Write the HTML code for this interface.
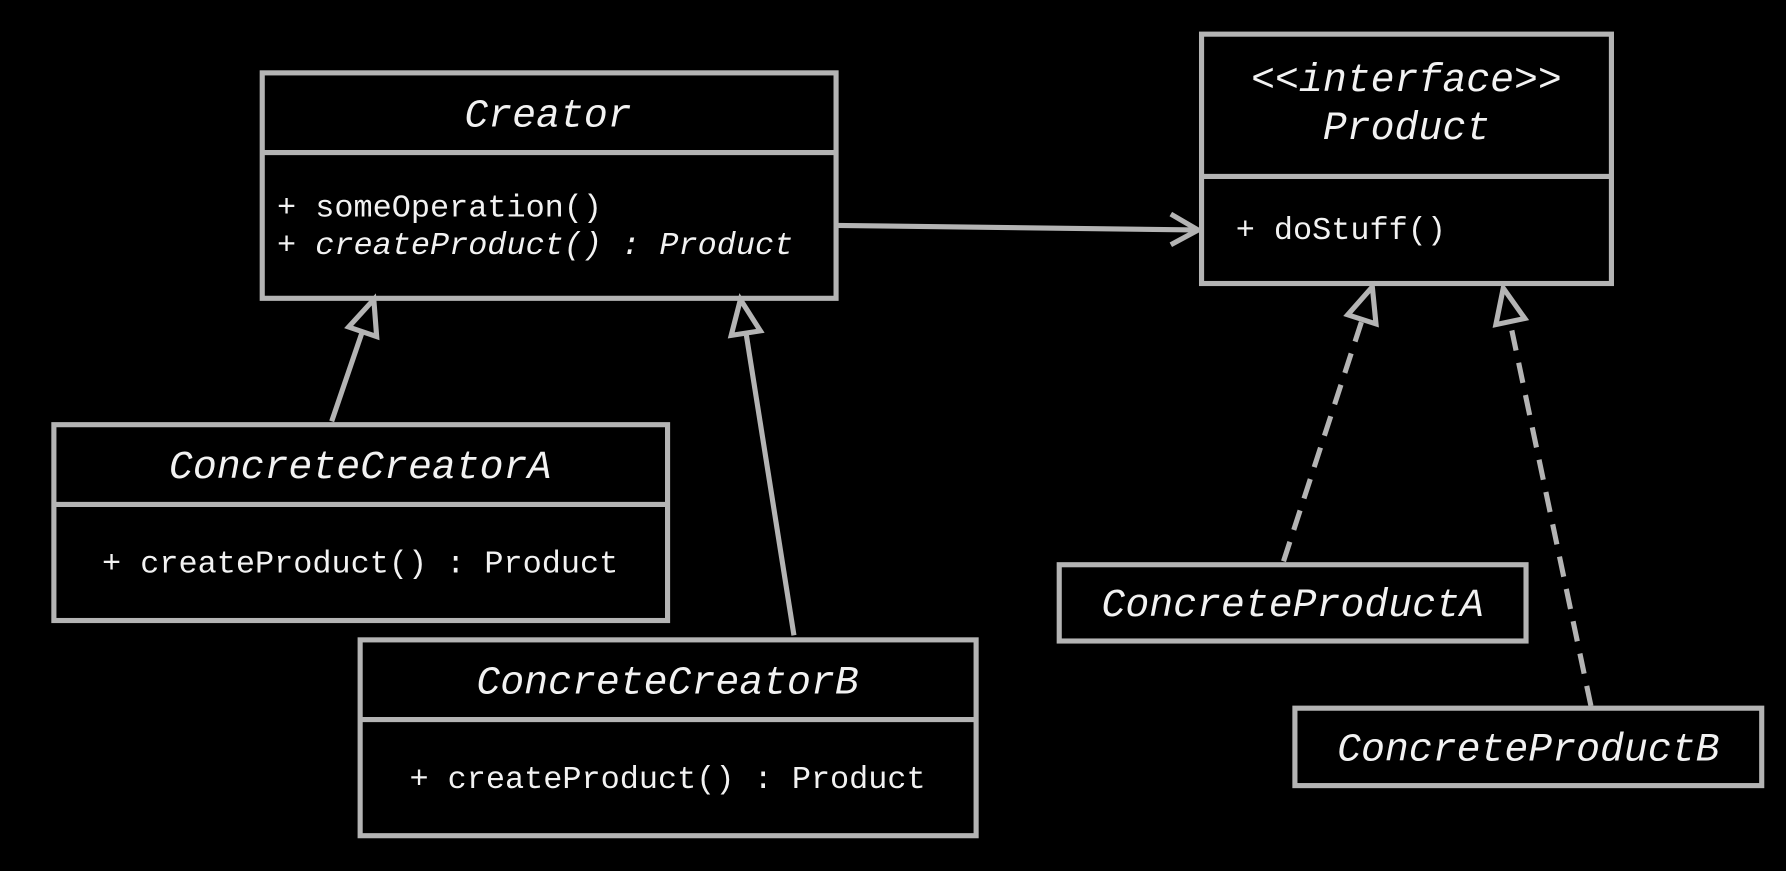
<!DOCTYPE html>
<html><head><meta charset="utf-8"><style>
html,body{margin:0;padding:0;background:#000;width:1786px;height:871px;overflow:hidden}
svg{display:block}
text{font-family:"Liberation Mono","DejaVu Sans Mono",monospace;fill:#f2f2f2}
.t{font-style:italic;font-size:35px}
.m{font-size:28px}
</style></head><body>
<svg width="1786" height="871" viewBox="0 0 1568 765" xmlns="http://www.w3.org/2000/svg">
<rect width="1568" height="765" fill="#000"/>
<g fill="none" stroke="#b4b4b4" stroke-width="4.5">
<rect x="230" y="64" width="504" height="198"/><line x1="230" y1="134" x2="734" y2="134"/>
<rect x="1055" y="30" width="360" height="219"/><line x1="1055" y1="155" x2="1415" y2="155"/>
<rect x="47" y="373" width="539" height="172"/><line x1="47" y1="443" x2="586" y2="443"/>
<rect x="316" y="562" width="541" height="172"/><line x1="316" y1="632" x2="857" y2="632"/>
<rect x="930" y="496" width="410" height="67"/>
<rect x="1137" y="622" width="410" height="68"/>
<line x1="734" y1="198" x2="1050" y2="202"/>
<polyline points="1028,188 1052,202 1028,215"/>
<line x1="291" y1="370" x2="318" y2="291"/>
<polygon points="328,263 330.5,295.6 305.9,287.2"/>
<line x1="697" y1="558" x2="655" y2="293"/>
<polygon points="650,263 667.5,290.6 641.9,294.6"/>
<line x1="1127" y1="493" x2="1196" y2="281" stroke-dasharray="18,11"/>
<polygon points="1205,252 1208.2,284.5 1183.4,276.5"/>
<line x1="1397" y1="620" x2="1326" y2="283" stroke-dasharray="18,11"/>
<polygon points="1320,253 1338.9,279.7 1313.5,285.1"/>
</g>
<text class="t" x="481" y="111" text-anchor="middle">Creator</text>
<text class="m" x="243" y="190">+ someOperation()</text>
<text class="m" x="243" y="223" font-style="italic">+ createProduct() : Product</text>
<text class="t" x="1235" y="80" text-anchor="middle" font-size="26.5">&lt;&lt;interface&gt;&gt;</text>
<text class="t" x="1235" y="122" text-anchor="middle">Product</text>
<text class="m" x="1085" y="210">+ doStuff()</text>
<text class="t" x="316" y="420" text-anchor="middle">ConcreteCreatorA</text>
<text class="m" x="316" y="503" text-anchor="middle">+ createProduct() : Product</text>
<text class="t" x="586" y="609" text-anchor="middle">ConcreteCreatorB</text>
<text class="m" x="586" y="692" text-anchor="middle">+ createProduct() : Product</text>
<text class="t" x="1135" y="541" text-anchor="middle">ConcreteProductA</text>
<text class="t" x="1342" y="668" text-anchor="middle">ConcreteProductB</text>
</svg>
</body></html>
